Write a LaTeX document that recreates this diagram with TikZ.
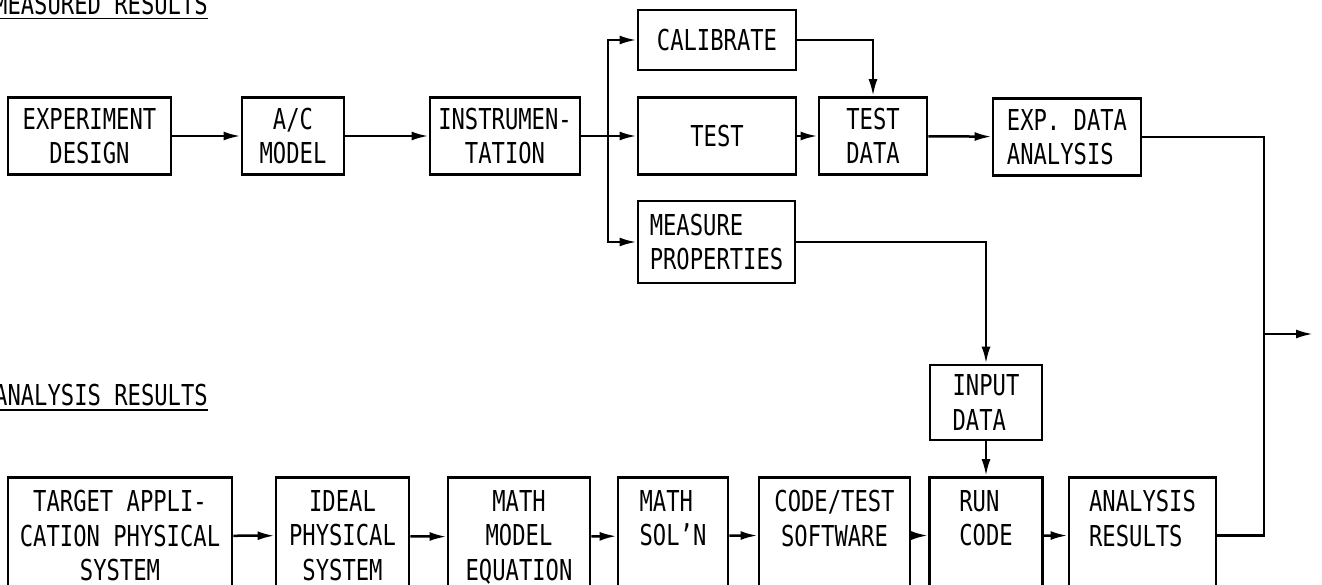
\documentclass[tikz,border=0pt]{standalone}
\usepackage{fontspec}
\newfontfamily\plotfont[FakeStretch=0.77]{DejaVu Sans Mono}
\usetikzlibrary{arrows.meta}
\begin{document}
\begin{tikzpicture}[x=1pt,y=-1pt,
  txt/.style={font=\plotfont\fontsize{28.8}{34.5}\selectfont},
  box/.style={txt, draw, line width=2.9pt, inner sep=0pt, align=center, minimum height=77pt},
  lowbox/.style={txt, draw, line width=2.9pt, anchor=north, inner xsep=0pt, inner ysep=13pt, align=center},
  conn/.style={line width=2.5pt},
  arr/.style={conn, -{Latex[length=17pt,width=9pt]}},
  head/.style={txt, inner sep=0pt, anchor=base east}]
\useasboundingbox (0,0) rectangle (1322,584);
\clip (0,0) rectangle (1322,584);

% headings
\node[head] (h1) at (208,14) {MEASURED RESULTS};
\draw[line width=1.5pt] ([yshift=-4.5pt]h1.base west) -- ([yshift=-4.5pt]h1.base east);
\node[head] (h2) at (208,405) {ANALYSIS RESULTS};
\draw[line width=1.5pt] ([yshift=-5pt]h2.base west) -- ([yshift=-5pt]h2.base east);

% upper row
\node[box, minimum width=163pt] (exp) at (89.5,136) {EXPERIMENT\\DESIGN};
\node[box, minimum width=102pt] (ac) at (293,136) {A/C\\MODEL};
\node[box, minimum width=150pt] (ins) at (505,136) {INSTRUMEN-\\TATION};
\node[box, minimum width=158pt, minimum height=60pt] (cal) at (717,40) {CALIBRATE};
\node[box, minimum width=158pt] (test) at (717,136) {TEST};
\node[box, minimum width=108pt] (td) at (873,136) {TEST\\DATA};
\node[box, minimum width=148pt, align=left] (eda) at (1067,137) {EXP. DATA\\ANALYSIS};
\node[box, minimum width=157pt, minimum height=82pt, align=left] (mp) at (716.5,242) {MEASURE\\PROPERTIES};
\node[box, minimum width=112pt, minimum height=75pt, align=left] (inp) at (986,402.5) {INPUT\\DATA};

% lower row
\node[lowbox, minimum width=224pt] (tgt) at (120,476) {TARGET APPLI-\\CATION PHYSICAL\\SYSTEM};
\node[lowbox, minimum width=133pt] (ideal) at (342.5,476) {IDEAL\\PHYSICAL\\SYSTEM};
\node[lowbox, minimum width=142pt] (mm) at (519,476) {MATH\\MODEL\\EQUATION};
\node[lowbox, minimum width=110pt, align=left] (ms) at (673,476) {MATH\\SOL’N\\\mbox{}};
\node[lowbox, minimum width=151pt] (ct) at (834.5,476) {CODE/TEST\\SOFTWARE\\\mbox{}};
\node[lowbox, minimum width=113pt, align=left] (rc) at (986,476) {RUN\\CODE\\\mbox{}};
\node[lowbox, minimum width=147pt, align=left] (ar) at (1142.5,476) {ANALYSIS\\RESULTS\\\mbox{}};

% connectors, upper
\draw[arr] (exp) -- (ac);
\draw[arr] (ac) -- (ins);
\coordinate (br) at (608,136);
\draw[conn] (ins) -- (br);
\draw[arr] (br) -- (test);
\draw[arr] (br) |- (cal);
\draw[arr] (br) |- (mp);
\draw[arr] (cal) -| (td);
\draw[arr] (test) -- (td);
\draw[arr] (td) -- (eda);
\draw[arr] (mp) -| (inp);
\draw[arr] (inp) -- (rc);

% connectors, lower
\draw[arr] (tgt) -- (ideal);
\draw[arr] (ideal) -- (mm);
\draw[arr] (mm) -- (ms);
\draw[arr] (ms) -- (ct);
\draw[arr] (ct) -- (rc);
\draw[arr] (rc) -- (ar);

% output bus
\coordinate (bus) at (1264,334);
\coordinate (out) at (1313,334);
\draw[conn] (eda) -| (bus);
\draw[conn] (ar) -| (bus);
\draw[arr] (bus) -- (out);
\end{tikzpicture}
\end{document}
